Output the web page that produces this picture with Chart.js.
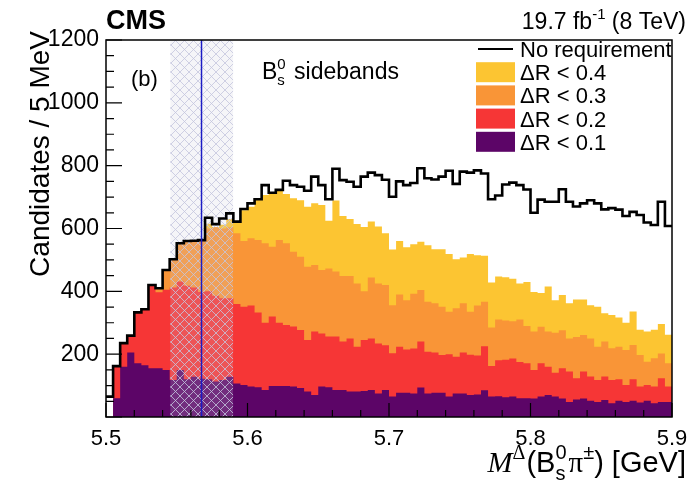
<!DOCTYPE html>
<html>
<head>
<meta charset="utf-8">
<script src="https://cdn.jsdelivr.net/npm/chart.js@4/dist/chart.umd.min.js"></script>
<style>
  html, body { margin: 0; padding: 0; background: #fff; }
</style>
</head>
<body>
<canvas id="chart" width="698" height="482"></canvas>
<script>
// binning: 5 MeV bins from 5.5 to 5.9 GeV
const massLow = 5.5;
const binSize = 0.005;

const noRequirement = [
  65, 162, 235, 259, 333, 343, 420, 410, 468, 502,
  553, 560, 561, 563, 634, 614, 632, 648, 622, 662,
  680, 693, 738, 714, 723, 752, 738, 733, 720, 765,
  738, 693, 790, 754, 749, 733, 765, 778, 770, 755,
  701, 750, 738, 745, 792, 760, 756, 765, 784, 742,
  781, 778, 785, 775, 693, 705, 740, 746, 738, 724,
  650, 692, 685, 685, 725, 685, 670, 680, 690, 680,
  661, 665, 660, 640, 653, 643, 619, 611, 685, 608
];
const dR04 = [
  0, 160, 235, 259, 333, 343, 420, 410, 468, 502,
  553, 560, 561, 563, 615, 605, 612, 630, 622, 658,
  669, 693, 707, 712, 720, 710, 696, 690, 669, 680,
  675, 625, 689, 640, 630, 614, 605, 622, 606, 585,
  533, 560, 540, 550, 558, 547, 534, 534, 519, 502,
  508, 519, 515, 513, 428, 447, 445, 440, 425, 430,
  398, 395, 415, 372, 388, 362, 374, 374, 356, 351,
  330, 325, 317, 300, 336, 278, 272, 278, 296, 262
];
const dR03 = [
  0, 160, 235, 259, 333, 343, 420, 410, 468, 502,
  553, 560, 561, 563, 600, 604, 600, 604, 585, 560,
  569, 563, 553, 542, 563, 553, 526, 510, 478, 484,
  468, 473, 463, 449, 449, 425, 400, 444, 425, 420,
  356, 390, 372, 392, 404, 367, 362, 351, 335, 346,
  362, 335, 355, 367, 285, 310, 307, 305, 310, 290,
  272, 287, 272, 268, 276, 250, 255, 261, 250, 224,
  240, 219, 224, 213, 229, 197, 176, 187, 202, 171
];
const dR02 = [
  0, 160, 235, 259, 333, 343, 420, 397, 405, 412,
  431, 418, 412, 398, 400, 386, 378, 378, 360, 351,
  355, 333, 300, 320, 300, 293, 288, 277, 245, 272,
  266, 256, 256, 240, 250, 224, 245, 250, 234, 228,
  203, 224, 215, 218, 240, 208, 205, 197, 200, 192,
  205, 198, 196, 225, 162, 181, 182, 186, 175, 171,
  150, 171, 160, 141, 155, 145, 123, 145, 129, 118,
  129, 118, 120, 102, 120, 97, 102, 97, 123, 97
];
const dR01 = [
  0, 60, 160, 205, 171, 165, 155, 155, 150, 118,
  150, 120, 128, 122, 120, 113, 118, 128, 107, 102,
  97, 95, 86, 99, 99, 99, 97, 92, 81, 70,
  97, 95, 86, 86, 81, 81, 83, 86, 75, 86,
  65, 77, 77, 75, 94, 75, 77, 77, 65, 75,
  75, 70, 72, 85, 65, 66, 63, 65, 60, 60,
  59, 65, 70, 65, 59, 48, 56, 59, 52, 48,
  54, 44, 52, 48, 52, 46, 52, 44, 48, 48
];

// signal window marker and shaded band (GeV)
const markerMass = 5.5675;
const bandRange = [5.5455, 5.5898];

const sans = '"Liberation Sans", Arial, Helvetica, sans-serif';
const serif = '"Liberation Serif", "Times New Roman", serif';

function steps(values) {
  const pts = values.map((v, i) => ({ x: massLow + i * binSize, y: v }));
  pts.push({ x: massLow + values.length * binSize, y: values[values.length - 1] });
  return pts;
}

function fillSet(label, values, color, order) {
  return {
    label: label,
    data: steps(values),
    stepped: 'before',
    fill: 'origin',
    backgroundColor: color,
    borderColor: 'rgba(0,0,0,0)',
    borderWidth: 1,
    pointRadius: 0,
    order: order
  };
}

// draws a run of text pieces; pieces with adv:false do not move the pen
function richText(ctx, parts, x, y, align) {
  let total = 0;
  parts.forEach(p => {
    ctx.font = p.font;
    p.w = ctx.measureText(p.t).width;
    if (p.adv !== false) total += p.w + (p.gap || 0);
  });
  let cx = align === 'right' ? x - total : x;
  parts.forEach(p => {
    ctx.font = p.font;
    ctx.fillText(p.t, cx, y + (p.dy || 0));
    if (p.adv !== false) cx += p.w + (p.gap || 0);
  });
}

let hatch = null;
function hatchPattern(ctx) {
  if (hatch) return hatch;
  const pc = document.createElement('canvas');
  pc.width = 9; pc.height = 9;
  const p = pc.getContext('2d');
  p.strokeStyle = 'rgba(196,198,222,0.8)';
  p.lineWidth = 1;
  p.beginPath();
  p.moveTo(-1, -1); p.lineTo(10, 10);
  p.moveTo(10, -1); p.lineTo(-1, 10);
  p.stroke();
  hatch = ctx.createPattern(pc, 'repeat');
  return hatch;
}

const decor = {
  id: 'decor',
  afterDatasetDraw(chart, args) {
    // shaded band goes above the filled histograms, under the outline
    if (args.index !== 1) return;
    const { ctx, chartArea: a, scales: { x } } = chart;
    const x0 = x.getPixelForValue(bandRange[0]);
    const x1 = x.getPixelForValue(bandRange[1]);
    ctx.save();
    ctx.fillStyle = 'rgba(205,206,222,0.2)';
    ctx.fillRect(x0, a.top, x1 - x0, a.bottom - a.top);
    ctx.fillStyle = hatchPattern(ctx);
    ctx.fillRect(x0, a.top, x1 - x0, a.bottom - a.top);
    ctx.restore();
  },
  afterDraw(chart) {
    const { ctx, chartArea: a, scales: { x, y } } = chart;
    ctx.save();

    // marker line
    const xm = x.getPixelForValue(markerMass);
    ctx.strokeStyle = '#1b1bc4';
    ctx.lineWidth = 1.5;
    ctx.beginPath();
    ctx.moveTo(xm, a.top); ctx.lineTo(xm, a.bottom);
    ctx.stroke();

    // frame and inward ticks
    ctx.strokeStyle = '#000';
    ctx.lineWidth = 1.5;
    ctx.strokeRect(a.left, a.top, a.right - a.left, a.bottom - a.top);
    ctx.lineWidth = 1.2;
    ctx.beginPath();
    for (let i = 0; i <= 20; i++) {
      const px = x.getPixelForValue(massLow + i * 0.02);
      const len = i % 5 === 0 ? 14 : 7;
      ctx.moveTo(px, a.bottom); ctx.lineTo(px, a.bottom - len);
    }
    for (let v = 0; v <= 1200; v += 50) {
      const py = y.getPixelForValue(v);
      const len = v % 200 === 0 ? 16 : 8;
      ctx.moveTo(a.left, py); ctx.lineTo(a.left + len, py);
    }
    ctx.stroke();

    ctx.fillStyle = '#000';
    ctx.textBaseline = 'alphabetic';

    // header
    ctx.textAlign = 'left';
    ctx.font = 'bold 27px ' + sans;
    ctx.fillText('CMS', 106, 29);
    richText(ctx, [
      { t: '19.7 fb', font: '23px ' + sans },
      { t: '-1', font: '15px ' + sans, dy: -10 },
      { t: ' (8 TeV)', font: '23px ' + sans }
    ], 686, 29, 'right');

    ctx.font = '22px ' + sans;
    ctx.fillText('(b)', 131, 86);
    richText(ctx, [
      { t: 'B', font: '23px ' + sans },
      { t: 's', font: '15px ' + sans, dy: 6, adv: false },
      { t: '0', font: '15px ' + sans, dy: -10, gap: 2 },
      { t: ' sidebands', font: '23px ' + sans }
    ], 262, 79, 'left');

    // legend
    const legend = [
      { label: 'No requirement', line: true },
      { label: 'ΔR < 0.4', color: chart.data.datasets[4].backgroundColor },
      { label: 'ΔR < 0.3', color: chart.data.datasets[3].backgroundColor },
      { label: 'ΔR < 0.2', color: chart.data.datasets[2].backgroundColor },
      { label: 'ΔR < 0.1', color: chart.data.datasets[1].backgroundColor }
    ];
    legend.forEach((item, i) => {
      const cy = 49 + i * 23.2;
      if (item.line) {
        ctx.lineWidth = 2.2;
        ctx.beginPath();
        ctx.moveTo(478, cy); ctx.lineTo(513, cy);
        ctx.stroke();
      } else {
        ctx.fillStyle = item.color;
        ctx.fillRect(476, cy - 10, 39, 20);
      }
      ctx.fillStyle = '#000';
      ctx.font = '22px ' + sans;
      ctx.fillText(item.label, 520, cy + 8);
    });

    // axis titles
    ctx.save();
    ctx.translate(49, 31);
    ctx.rotate(-Math.PI / 2);
    ctx.textAlign = 'right';
    ctx.font = '28px ' + sans;
    ctx.fillText('Candidates / 5 MeV', 0, 0);
    ctx.restore();

    ctx.textAlign = 'left';
    richText(ctx, [
      { t: 'M', font: 'italic 30px ' + serif },
      { t: 'Δ', font: '20px ' + serif, dy: -13, gap: 1 },
      { t: '(B', font: '29px ' + sans },
      { t: 's', font: '20px ' + sans, dy: 8, adv: false },
      { t: '0', font: '20px ' + sans, dy: -13, gap: 2 },
      { t: 'π', font: '29px ' + serif },
      { t: '±', font: '20px ' + sans, dy: -13 },
      { t: ') [GeV]', font: '29px ' + sans }
    ], 686, 472, 'right');

    ctx.restore();
  }
};

new Chart(document.getElementById('chart'), {
  type: 'line',
  data: {
    datasets: [
      {
        label: 'No requirement',
        data: steps(noRequirement),
        stepped: 'before',
        fill: false,
        borderColor: '#000',
        borderWidth: 2.6,
        pointRadius: 0,
        order: 0
      },
      fillSet('ΔR < 0.1', dR01, '#5c0567', 1),
      fillSet('ΔR < 0.2', dR02, '#f63636', 2),
      fillSet('ΔR < 0.3', dR03, '#f99537', 3),
      fillSet('ΔR < 0.4', dR04, '#fcc532', 4)
    ]
  },
  options: {
    responsive: false,
    animation: false,
    devicePixelRatio: 1,
    events: [],
    layout: { padding: { left: 0, right: 26, top: 40, bottom: 0 } },
    plugins: { legend: { display: false }, tooltip: { enabled: false } },
    scales: {
      x: {
        type: 'linear',
        min: 5.5,
        max: 5.9,
        grid: { display: false, drawTicks: false },
        border: { display: false },
        ticks: {
          stepSize: 0.1,
          padding: 9,
          color: '#000',
          font: { family: sans, size: 22 },
          maxRotation: 0,
          callback: v => v.toFixed(1)
        },
        afterFit: s => { s.height = 65; }
      },
      y: {
        min: 0,
        max: 1200,
        grid: { display: false, drawTicks: false },
        border: { display: false },
        ticks: {
          stepSize: 200,
          padding: 7,
          color: '#000',
          font: { family: sans, size: 23 },
          callback: v => (v === 0 ? '' : v)
        },
        afterFit: s => { s.width = 106; }
      }
    }
  },
  plugins: [decor]
});
</script>
</body>
</html>
